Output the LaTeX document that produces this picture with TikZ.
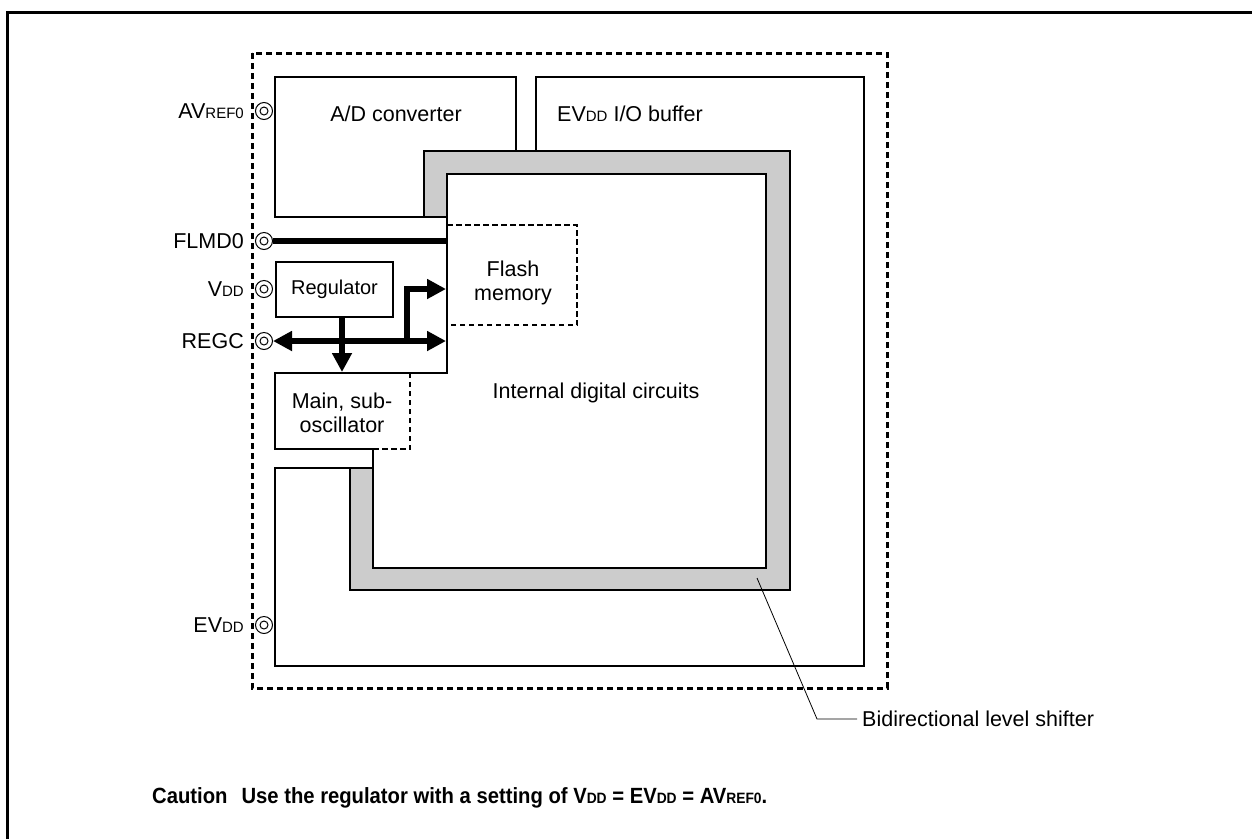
\documentclass[tikz,border=0pt]{standalone}
\usepackage{fontspec}
\setmainfont{Liberation Sans}
\newfontfamily\cndfont{Liberation Sans}[FakeStretch=0.92]
\usetikzlibrary{arrows.meta}
\newcommand\ssub[1]{{\fontsize{15}{15}\selectfont #1}}
\definecolor{band}{gray}{0.8}
\begin{document}
\begin{tikzpicture}[x=1pt,y=-1pt,
  box/.style={line width=2.5pt, line join=miter},
  dbox/.style={line width=2.5pt, dash pattern=on 5.5pt off 3.5pt},
  outerdash/.style={line width=3pt, dash pattern=on 6pt off 4pt},
  pin/.style={circle, draw, line width=1pt, fill=white, minimum size=17pt, inner sep=0pt,
    path picture={\draw[line width=1pt] (path picture bounding box.center) circle (4pt);}},
  bus/.style={line width=5.5pt, line join=miter},
  tipT/.tip={Triangle[length=19pt,width=19pt]},
  lbl/.style={anchor=base east, inner sep=0pt, font=\fontsize{21.5}{21.5}\selectfont},
  txt/.style={inner sep=0pt, font=\fontsize{21.5}{24}\selectfont, align=center},
  thinline/.style={line width=0.8pt}
]
\useasboundingbox (0,0) rectangle (1252,839);
% outer frame
\coordinate (fr1) at (7,839);
\coordinate (fr2) at (7,12);
\coordinate (fr3) at (1252,12);
\draw[line width=3pt] (fr1) -- (fr2) -- (fr3);
% dashed chip boundary
\draw[outerdash] (252,53) rectangle (887,688);
% level shifter band
\draw[box, fill=band] (424,217) -- (424,151) -- (790,151) -- (790,590) -- (350,590) -- (350,468)
  -- (373,468) -- (373,568) -- (766,568) -- (766,174) -- (447,174) -- (447,217) -- cycle;
% A/D converter outline
\draw[box] (424,217) -- (275,217) -- (275,77) -- (516,77) -- (516,151);
% regulator region and oscillator
\draw[box] (447,217) -- (447,373) -- (275,373) -- (275,449) -- (373,449) -- (373,468);
\draw[dbox] (373,449) -- (410,449) -- (410,373);
% EVDD I/O buffer outline
\draw[box] (350,468) -- (275,468) -- (275,666) -- (864,666) -- (864,77) -- (536,77) -- (536,151);
% flash memory
\draw[dbox] (447,225) -- (577,225) -- (577,325) -- (447,325);

% texts
\node[txt, anchor=base] (adc) at (396,121) {A/D converter};
\node[txt, anchor=base west] (io) at (557,121) {EV\ssub{DD} I/O buffer};
\node[txt, anchor=base] (idc) at (596,398) {Internal digital circuits};
\node[txt] (osc) at (342,413) {Main, sub-\\oscillator};
\node[txt] (flash) at (513,283) {Flash\\memory};
\node[box, draw, minimum width=117pt, minimum height=55pt, inner sep=0pt,
  font=\fontsize{20}{20}\selectfont] (reg) at (334.5,289.5) {Regulator};

% pins
\node[pin] (pA) at (264,111) {};
\node[pin] (pF) at (264,241) {};
\node[pin] (pV) at (264,289) {};
\node[pin] (pR) at (264,341) {};
\node[pin] (pE) at (264,625) {};
\node[lbl] (lA) at (244,118) {AV\ssub{REF0}};
\node[lbl] (lF) at (244,248) {FLMD0};
\node[lbl] (lV) at (244,296) {V\ssub{DD}};
\node[lbl] (lR) at (244,348) {REGC};
\node[lbl] (lE) at (244,632) {EV\ssub{DD}};

% buses
\coordinate (flEnd) at (447,241);
\coordinate (rgEnd) at (446,341);
\coordinate (br) at (407,341);
\coordinate (flIn) at (446,289);
\coordinate (oscTop) at (342,372);
\draw[bus] (pF.east) -- (flEnd);
\draw[bus, tipT-tipT] (pR.east) -- (rgEnd);
\draw[bus, -tipT] (br) |- (flIn);
\draw[bus, -tipT] ([xshift=7.5pt]reg.south) -- (oscTop);

% leader
\coordinate (ls1) at (757,578);
\coordinate (ls2) at (817,719);
\node[anchor=west, inner xsep=5pt, inner ysep=0pt, font=\fontsize{21.5}{21.5}\selectfont] (lsT) at (857,719) {Bidirectional level shifter};
\draw[thinline] (ls1) -- (ls2) -- (lsT.west);

% caution
\node[anchor=base west, inner sep=0pt, font=\cndfont\bfseries\fontsize{22}{22}\selectfont] (caut) at (152,803)
  {Caution\hspace{14pt}Use the regulator with a setting of V\ssub{DD} = EV\ssub{DD} = AV\ssub{REF0}.};
\end{tikzpicture}
\end{document}
